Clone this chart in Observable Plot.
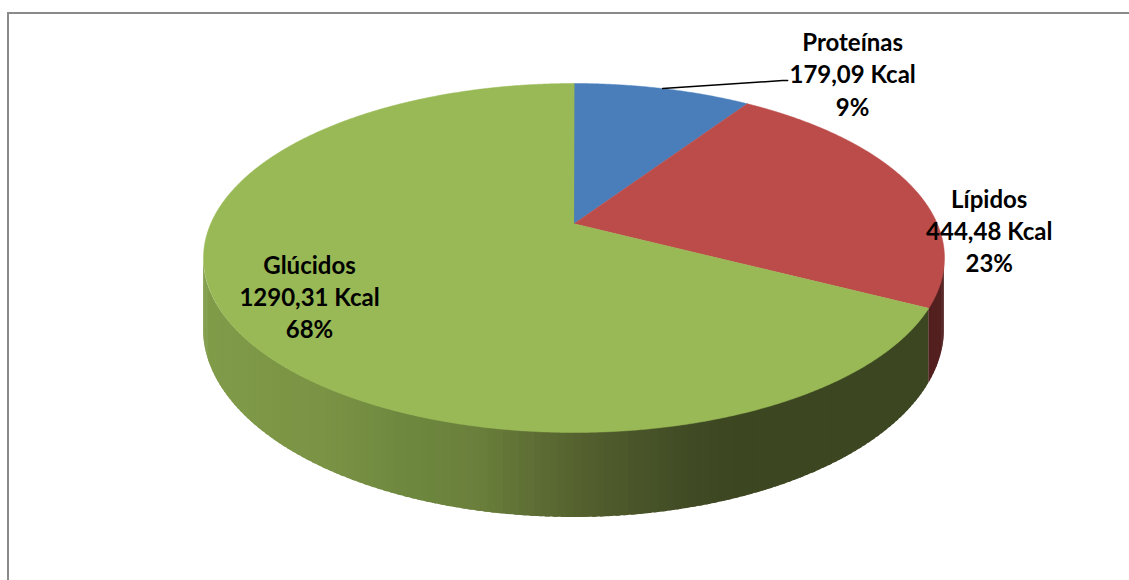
<!DOCTYPE html>
<html>
<head>
<meta charset="utf-8">
<script src="https://cdn.jsdelivr.net/npm/d3@7"></script>
<script src="https://cdn.jsdelivr.net/npm/@observablehq/plot@0.6"></script>
<style>
  html, body { margin: 0; padding: 0; background: #fff; overflow: hidden; }
  #chart { position: relative; width: 1129px; height: 580px; }
  #chart svg { position: absolute; left: 0; top: 0; }
  #frame {
    position: absolute; left: 7px; top: 12px; right: -20px; bottom: -20px;
    border-top: 2px solid #8a8a8a; border-left: 2px solid #8a8a8a;
    pointer-events: none;
  }
</style>
</head>
<body>
<div id="chart"></div>
<script>
// Energy intake split by macronutrient
const categories = ["Proteínas", "Lípidos", "Glúcidos"];
const kcal = [179.09, 444.48, 1290.31];
const kcalLabels = ["179,09 Kcal", "444,48 Kcal", "1290,31 Kcal"];
const percentLabels = ["9%", "23%", "68%"];

// Styling
const topColors = ["#4a7ebb", "#bb4c4a", "#98b955"];
const sideColors = ["#3f5b87", "#531f1f", null]; // null: shaded ramp below
const labelOffsets = [[190, -15.5], [80, 46], [81, -25]]; // px from rim mid-angle
const W = 1129, H = 580;

// Perspective view of a flat disk: the front rim is nearer and drawn larger.
const K = 0.196;       // foreshortening
const DEPTH = 0.407;   // thickness of the pie
const SX = 363.3, SY = 167.8, CX = 573.5, CY = 223.3; // px per unit, centre

function project(phi, r = 1, drop = 0) {
  const u = r * Math.sin(phi), v = -r * Math.cos(phi);
  const w = 1 - K * v;
  return {x: u / w, y: (v + drop) / w};
}

// Side shading ramp (by rim angle, degrees): dark on the right, light on the left
const shade = d3.scaleLinear()
  .domain([100, 158, 165, 176, 184, 192, 203, 214, 233, 260])
  .range(["#3c4722", "#3c4722", "#404b25", "#4f5b2c", "#5c6b33",
          "#6a7f3b", "#6e893f", "#7a9244", "#7e9947", "#829d4b"])
  .interpolate(d3.interpolateRgb)
  .clamp(true);

const rows = categories.map((c, i) => ({name: c, kcal: kcal[i], i}));
const arcs = d3.pie().sort(null).value(d => d.kcal).startAngle(0).endAngle(2 * Math.PI)(rows);

// Top faces
const topFaces = arcs.map(a => {
  const pts = [{...project(0, 0), i: a.data.i}];
  const n = Math.max(8, Math.ceil((a.endAngle - a.startAngle) / 0.005));
  for (let j = 0; j <= n; j++) {
    const phi = a.startAngle + (a.endAngle - a.startAngle) * j / n;
    pts.push({...project(phi), i: a.data.i});
  }
  return pts;
});

// Visible side wall: front half between the two silhouette angles,
// cut into thin overlapping strips so the shading can vary along the rim
const silR = Math.acos(-K), silL = 2 * Math.PI - Math.acos(-K);
const sideStrips = [];
let seg = 0;
arcs.forEach(a => {
  const a0 = Math.max(a.startAngle, silR), a1 = Math.min(a.endAngle, silL);
  if (a1 <= a0) return;
  const step = Math.PI / 180;
  const n = Math.max(1, Math.ceil((a1 - a0) / step));
  for (let j = 0; j < n; j++) {
    const p0 = a0 + (a1 - a0) * j / n;
    const p1 = Math.min(a1, a0 + (a1 - a0) * (j + 1.6) / n);
    const deg = (a0 + (a1 - a0) * (j + 0.5) / n) * 180 / Math.PI;
    const color = sideColors[a.data.i] ?? shade(deg);
    for (let m = 0; m <= 4; m++) {
      const phi = p0 + (p1 - p0) * m / 4;
      const t = project(phi), b = project(phi, 1, DEPTH);
      sideStrips.push({seg, x: t.x, y1: t.y, y2: b.y, color});
    }
    seg++;
  }
});

// Label anchors and the leader line of the small slice
const labels = arcs.map(a => {
  const mid = (a.startAngle + a.endAngle) / 2;
  const p = project(mid);
  const [dx, dy] = labelOffsets[a.data.i];
  return {
    x: p.x + dx / SX, y: p.y + dy / SY, rim: p,
    text: `${categories[a.data.i]}\n${kcalLabels[a.data.i]}\n${percentLabels[a.data.i]}`
  };
});
const lead = labels[0];
const leader = [
  {x: lead.rim.x, y: lead.rim.y},
  {x: lead.x - 70 / SX, y: lead.y + 7.5 / SY},
  {x: lead.x - 65 / SX, y: lead.y + 7.5 / SY}
];

const chart = Plot.plot({
  width: W, height: H, margin: 0,
  style: {background: "transparent"},
  x: {domain: [-CX / SX, (W - CX) / SX], range: [0, W], axis: null},
  y: {domain: [-CY / SY, (H - CY) / SY], range: [0, H], axis: null},
  color: {type: "identity"},
  marks: [
    Plot.areaY(sideStrips, {x: "x", y1: "y1", y2: "y2", z: "seg", fill: "color"}),
    ...topFaces.map((pts, k) =>
      Plot.line(pts, {x: "x", y: "y", curve: "linear-closed", fill: topColors[arcs[k].data.i], stroke: topColors[arcs[k].data.i], strokeWidth: 0.5})
    ),
    Plot.line(leader, {x: "x", y: "y", stroke: "#000", strokeWidth: 1.6}),
    Plot.text(labels, {
      x: "x", y: "y", text: "text",
      fontFamily: "Lato", fontWeight: "bold", fontSize: 24, lineHeight: 1.34,
      fill: "#000", textAnchor: "middle", lineAnchor: "middle"
    })
  ]
});

const root = document.getElementById("chart");
root.append(chart);
const frame = document.createElement("div");
frame.id = "frame";
root.append(frame);
</script>
</body>
</html>
